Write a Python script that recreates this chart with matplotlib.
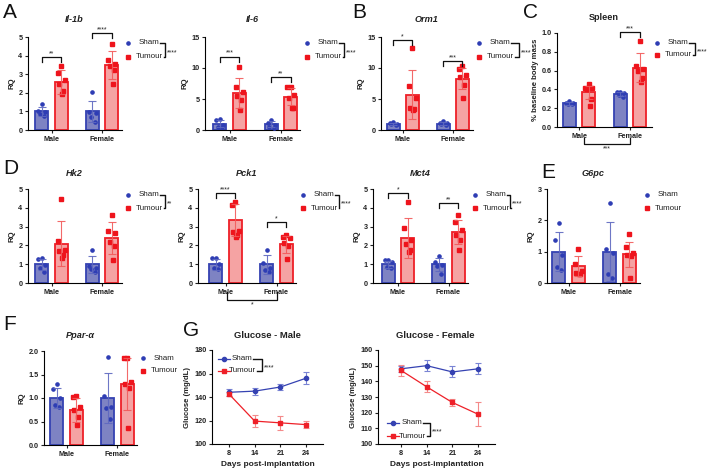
import numpy as np
import matplotlib
matplotlib.use('Agg')
import matplotlib.pyplot as plt
from matplotlib.lines import Line2D

plt.rcParams['font.family'] = ['Liberation Sans', 'DejaVu Sans']
plt.rcParams['axes.linewidth'] = 0.8

W, H = 709, 470
fig = plt.figure(figsize=(7.09, 4.70), dpi=100)

# ---------------- data ----------------
groups = ['Male', 'Female']

il1b_mean = [1.0, 2.58, 1.0, 3.5]
il1b_sd = [0.25, 0.64, 0.58, 0.75]
il1b_pts = [[1.42, 1.02, 0.95, 0.85, 0.76], [3.45, 3.05, 2.7, 2.45, 2.1, 1.95],
            [2.03, 0.95, 0.9, 0.7, 0.45], [4.65, 3.75, 3.55, 3.45, 3.25, 2.5]]

il6_mean = [1.0, 6.0, 1.0, 5.4]
il6_sd = [0.55, 2.4, 0.5, 1.35]
il6_pts = [[1.75, 1.65, 0.8, 0.55, 0.5], [10.1, 6.9, 6.2, 5.5, 4.8, 3.2],
           [1.6, 1.05, 0.8, 0.55, 0.3], [7.0, 6.95, 5.6, 5.1, 3.6, 3.5]]

orm1_mean = [1.0, 5.7, 1.0, 8.3]
orm1_sd = [0.15, 4.0, 0.22, 1.7]
orm1_pts = [[1.25, 1.15, 1.0, 0.9, 0.75], [13.3, 7.1, 5.2, 3.6, 3.4, 3.3],
            [1.4, 1.15, 1.05, 0.9, 0.75], [10.4, 9.9, 8.8, 8.5, 7.2, 5.1]]

spleen_mean = [0.25, 0.37, 0.35, 0.63]
spleen_sd = [0.02, 0.07, 0.02, 0.155]
spleen_pts = [[0.28, 0.26, 0.25, 0.245, 0.24], [0.46, 0.42, 0.41, 0.40, 0.30, 0.22],
              [0.37, 0.37, 0.36, 0.34, 0.32], [0.92, 0.65, 0.62, 0.60, 0.52, 0.48]]

hk2_mean = [1.0, 2.1, 1.0, 2.4]
hk2_sd = [0.3, 1.2, 0.45, 0.85]
hk2_pts = [[1.35, 1.3, 0.95, 0.8, 0.6], [4.45, 2.25, 1.75, 1.7, 1.5, 1.35],
           [1.75, 0.9, 0.8, 0.75, 0.6], [3.6, 2.75, 2.65, 2.2, 1.95, 1.2]]

pck1_mean = [1.0, 3.35, 1.0, 2.05]
pck1_sd = [0.3, 0.85, 0.5, 0.45]
pck1_pts = [[1.35, 1.35, 1.0, 0.8, 0.75], [4.3, 4.15, 2.75, 2.7, 2.55, 2.45],
            [1.75, 1.05, 0.8, 0.7, 0.6], [2.55, 2.45, 2.4, 2.15, 1.95, 1.3]]

mct4_mean = [1.0, 2.4, 1.0, 2.7]
mct4_sd = [0.18, 1.05, 0.35, 0.65]
mct4_pts = [[1.25, 1.2, 1.1, 0.85, 0.8], [4.3, 2.95, 2.3, 2.05, 1.75, 1.65],
            [1.45, 1.1, 0.95, 0.9, 0.5], [3.6, 3.25, 2.8, 2.55, 2.3, 1.75]]

g6pc_mean = [1.0, 0.55, 1.0, 0.92]
g6pc_sd = [0.63, 0.32, 0.95, 0.4]
g6pc_pts = [[1.9, 1.38, 0.88, 0.5, 0.42], [1.1, 0.6, 0.38, 0.32, 0.3, 0.3],
            [2.55, 1.1, 0.95, 0.3, 0.15], [1.55, 1.15, 0.95, 0.9, 0.85, 0.17]]

ppar_mean = [1.0, 0.75, 1.0, 1.3]
ppar_sd = [0.22, 0.25, 0.53, 0.55]
ppar_pts = [[1.3, 1.2, 1.0, 0.85, 0.8], [1.04, 1.03, 0.8, 0.75, 0.6, 0.42],
            [1.88, 1.05, 0.8, 0.78, 0.55], [1.85, 1.85, 1.35, 1.3, 1.22, 0.36]]

days = ['8', '14', '21', '24']
glu_m_sham = [144, 145, 148.5, 156]
glu_m_sham_err = [3, 3, 2.5, 5]
glu_m_tum = [142.5, 119.5, 118, 116.5]
glu_m_tum_err = [2, 5, 6, 3]
glu_f_sham = [148, 150, 146, 148]
glu_f_sham_err = [2, 3.5, 3.5, 3.5]
glu_f_tum = [147, 136.5, 126.5, 119]
glu_f_tum_err = [3.5, 3.5, 2.5, 7.5]

# ---------------- styles ----------------
BLUE_FILL = '#7E83C3'
BLUE_EDGE = '#3542B2'
BLUE_DOT = '#2E3DB4'
BLUE_ERR = '#5E68C0'
RED_FILL = '#F5A3A3'
RED_EDGE = '#EE2028'
RED_DOT = '#EE141C'
RED_ERR = '#F25A5A'
TXT = '#222222'

TICK_FS = 5.2
LAB_FS = 5.6


def fx(x):
    return x / W


def fy(y):
    return 1 - y / H


def px_axes(left, top, right, bottom):
    return fig.add_axes([left / W, 1 - bottom / H, (right - left) / W, (bottom - top) / H])


def style_axes(ax):
    for s in ['top', 'right']:
        ax.spines[s].set_visible(False)
    ax.tick_params(axis='both', labelsize=TICK_FS, length=2.5, width=0.8, pad=1.5, colors=TXT)
    for lab in ax.get_xticklabels() + ax.get_yticklabels():
        lab.set_fontweight('bold')


def offsets(n):
    if n == 5:
        return [0.0, -0.07, 0.07, -0.035, 0.05]
    return [0.0, -0.07, 0.07, -0.04, 0.04, 0.02]


def bar_panel(left, top, right, bottom, mc, fc, ylim, yticks, means, sds, pts,
              ylabel='RQ', yfmt=None):
    ax = px_axes(left, top, right, bottom)
    u = fc - mc
    ax.set_xlim((left - mc) / u, (right - mc) / u)
    ax.set_ylim(*ylim)
    xs = [-0.19, 0.19, 0.81, 1.19]
    for i, x in enumerate(xs):
        sham = i % 2 == 0
        fill = BLUE_FILL if sham else RED_FILL
        edge = BLUE_EDGE if sham else RED_EDGE
        dot = BLUE_DOT if sham else RED_DOT
        err = BLUE_ERR if sham else RED_ERR
        ax.bar(x, means[i], width=0.26, color=fill, edgecolor=edge, linewidth=1.3, zorder=2)
        p = pts[i]
        ox = offsets(len(p))
        ax.plot([x + o for o in ox], p, linestyle='none', marker='o' if sham else 's',
                ms=2.3, color=dot, zorder=3, clip_on=False)
        ax.errorbar(x, means[i], yerr=sds[i], color=err, capsize=3.2, elinewidth=0.8,
                    capthick=0.8, zorder=4, alpha=0.9)
    ax.set_xticks([0, 1])
    ax.set_xticklabels(groups)
    ax.set_yticks(yticks)
    if yfmt:
        ax.set_yticklabels([yfmt.format(v) for v in yticks])
    style_axes(ax)
    ax.set_ylabel(ylabel, fontsize=LAB_FS, fontweight='bold', labelpad=2, color=TXT)
    return ax


def sig_bracket(ax, x1, x2, y, drop, text, fs=5.0):
    ax.plot([x1, x1, x2, x2], [y - drop, y, y, y - drop], color='#111111', lw=0.9,
            clip_on=False, zorder=5)
    ax.text((x1 + x2) / 2, y, text, ha='center', va='bottom', fontsize=fs, color=TXT)


legend_items = []


def legend(mx, y1, y2, stars=None, bx=None, kind='bar', tx=None):
    if kind == 'bar':
        fig.add_artist(Line2D([fx(mx)], [fy(y1)], marker='o', ms=2.3, color=BLUE_DOT,
                              transform=fig.transFigure, linestyle='none'))
        fig.add_artist(Line2D([fx(mx)], [fy(y2)], marker='s', ms=2.3, color=RED_DOT,
                              transform=fig.transFigure, linestyle='none'))
        tcx = mx + 21 if tx is None else tx
    else:
        fig.add_artist(Line2D([fx(mx - 6), fx(mx + 6)], [fy(y1)] * 2, marker=None,
                              color=BLUE_EDGE, lw=0.9, transform=fig.transFigure))
        fig.add_artist(Line2D([fx(mx)], [fy(y1)], marker='o', ms=3, color=BLUE_EDGE,
                              transform=fig.transFigure, linestyle='none'))
        fig.add_artist(Line2D([fx(mx - 6), fx(mx + 6)], [fy(y2)] * 2, marker=None,
                              color=RED_EDGE, lw=0.9, transform=fig.transFigure))
        fig.add_artist(Line2D([fx(mx)], [fy(y2)], marker='s', ms=3, color=RED_EDGE,
                              transform=fig.transFigure, linestyle='none'))
        tcx = mx + 25 if tx is None else tx
    t1 = fig.text(fx(tcx), fy(y1), 'Sham', ha='center', va='center', fontsize=5.8, color=TXT)
    t2 = fig.text(fx(tcx), fy(y2), 'Tumour', ha='center', va='center', fontsize=5.8, color=TXT)
    if stars:
        legend_items.append((t1, t2, y1, y2, bx, stars))


def finish_legends():
    r = fig.canvas.get_renderer()
    for t1, t2, y1, y2, bx, stars in legend_items:
        e1 = t1.get_window_extent(r).x1 + 1
        e2 = t2.get_window_extent(r).x1 + 1
        fig.add_artist(Line2D([e1 / W, fx(bx), fx(bx), e2 / W], [fy(y1), fy(y1), fy(y2), fy(y2)],
                              color='#111111', lw=1.0, transform=fig.transFigure))
        fig.text(fx(bx + 2), fy((y1 + y2) / 2 + 2.5), stars, ha='left', va='center',
                 fontsize=5.0, color=TXT)


def title(x, y, s, italic=True, fs=6.6):
    fig.text(fx(x), fy(y), s, ha='center', va='center', fontsize=fs, fontweight='bold',
             fontstyle='italic' if italic else 'normal', color=TXT)


def letter(x, y, s):
    fig.text(fx(x), fy(y), s, ha='left', va='center', fontsize=15, color='#111111')


# ---------------- Row 1 ----------------
ax = bar_panel(28, 37, 122, 130, 51.5, 102, (0, 5), [0, 1, 2, 3, 4, 5], il1b_mean, il1b_sd, il1b_pts)
sig_bracket(ax, -0.19, 0.19, 3.92, 0.25, '**')
sig_bracket(ax, 0.81, 1.19, 5.2, 0.25, '****')
title(74.5, 20, 'Il-1b')
legend(128, 43, 57, '****', 165)

ax = bar_panel(205, 37, 300, 130, 229.5, 281, (0, 15), [0, 5, 10, 15], il6_mean, il6_sd, il6_pts)
sig_bracket(ax, -0.19, 0.19, 11.8, 0.8, '***')
sig_bracket(ax, 0.81, 1.19, 8.55, 0.8, '**')
title(252, 20, 'Il-6')
legend(307, 43, 57, '****', 344)

ax = bar_panel(381, 37, 473, 130, 402.5, 452.5, (0, 15), [0, 5, 10, 15], orm1_mean, orm1_sd, orm1_pts)
sig_bracket(ax, -0.19, 0.19, 14.5, 0.8, '*')
sig_bracket(ax, 0.81, 1.19, 11.1, 0.8, '***')
title(426, 20, 'Orm1')
legend(479, 43, 57, '****', 519)

ax = bar_panel(557, 33, 652, 127, 579, 630, (0, 1.0), [0, 0.2, 0.4, 0.6, 0.8, 1.0],
               spleen_mean, spleen_sd, spleen_pts, ylabel='% baseline body mass', yfmt='{:.1f}')
sig_bracket(ax, 0.81, 1.19, 1.01, 0.05, '***')
ax.plot([0.1, 0.1, 1.0, 1.0], [-0.12, -0.185, -0.185, -0.12], color='#111111', lw=0.9, clip_on=False)
ax.text(0.55, -0.2, '***', ha='center', va='top', fontsize=5.0, color=TXT)
title(604, 18, 'Spleen', italic=False)
legend(657, 43, 55, '****', 695)

letter(3, 13, 'A')
letter(352, 13, 'B')
letter(523, 13, 'C')

# ---------------- Row 2 ----------------
ax = bar_panel(28, 189, 122, 283, 51.5, 102, (0, 5), [0, 1, 2, 3, 4, 5], hk2_mean, hk2_sd, hk2_pts)
title(74.5, 174, 'Hk2')
legend(128, 195, 208, '**', 165)

ax = bar_panel(198, 189, 296, 283, 225.5, 276.5, (0, 5), [0, 1, 2, 3, 4, 5], pck1_mean, pck1_sd, pck1_pts)
sig_bracket(ax, -0.19, 0.19, 4.79, 0.25, '****')
sig_bracket(ax, 0.81, 1.19, 3.24, 0.25, '*')
ax.plot([0.03, 0.03, 1.0, 1.0], [-0.5, -0.9, -0.9, -0.5], color='#111111', lw=0.9, clip_on=False)
ax.text(0.515, -1.0, '*', ha='center', va='top', fontsize=5.0, color=TXT)
title(247, 174, 'Pck1')
legend(303, 195, 208, '****', 339)

ax = bar_panel(373, 189, 468, 283, 398, 448.5, (0, 5), [0, 1, 2, 3, 4, 5], mct4_mean, mct4_sd, mct4_pts)
sig_bracket(ax, -0.19, 0.19, 4.79, 0.25, '*')
sig_bracket(ax, 0.81, 1.19, 4.25, 0.25, '**')
title(420, 174, 'Mct4')
legend(475, 195, 208, '****', 510)

ax = bar_panel(547, 189, 640, 283, 568.5, 619.5, (0, 3), [0, 1, 2, 3], g6pc_mean, g6pc_sd, g6pc_pts)
title(593, 174, 'G6pc')
legend(647, 195, 208, tx=668)

letter(3, 168, 'D')
letter(541, 172, 'E')

# ---------------- Row 3 ----------------
ax = bar_panel(44, 351, 137, 445, 66.5, 117.5, (0, 2.0), [0, 0.5, 1.0, 1.5, 2.0],
               ppar_mean, ppar_sd, ppar_pts, yfmt='{:.1f}')
title(80, 336, 'Ppar-α')
legend(143, 358, 371, tx=164)
letter(3, 325, 'F')


def glucose_panel(left, right, x0px, ylim, yticks, sham, sham_e, tum, tum_e, ttl, tx):
    ax = px_axes(left, 350, right, 444)
    u = 25.7
    ax.set_xlim((left - x0px) / u, (right - x0px) / u)
    ax.set_ylim(*ylim)
    xs = np.arange(len(days))
    ax.errorbar(xs, sham, yerr=sham_e, color='#7A84D4', capsize=2.5, elinewidth=0.8,
                capthick=0.8, linestyle='none', zorder=2)
    ax.errorbar(xs, tum, yerr=tum_e, color='#F48A8A', capsize=2.5, elinewidth=0.8,
                capthick=0.8, linestyle='none', zorder=2)
    ax.plot(xs, sham, color=BLUE_EDGE, marker='o', ms=3, lw=0.9, zorder=3)
    ax.plot(xs, tum, color=RED_EDGE, marker='s', ms=3, lw=0.9, zorder=3)
    ax.set_xticks(xs)
    ax.set_xticklabels(days)
    ax.set_yticks(yticks)
    style_axes(ax)
    ax.set_ylabel('Glucose (mg/dL)', fontsize=LAB_FS, fontweight='bold', labelpad=2, color=TXT)
    ax.set_xlabel('Days post-implantation', fontsize=6.0, fontweight='bold', labelpad=3, color=TXT)
    title(tx, 335, ttl, italic=False, fs=6.8)
    return ax


glucose_panel(212, 323, 229, (100, 180), [100, 120, 140, 160, 180],
              glu_m_sham, glu_m_sham_err, glu_m_tum, glu_m_tum_err, 'Glucose - Male', 267)
legend(224, 359, 371, '****', 262, kind='line', tx=242)

glucose_panel(378, 495, 401, (100, 160), [100, 110, 120, 130, 140, 150, 160],
              glu_f_sham, glu_f_sham_err, glu_f_tum, glu_f_tum_err, 'Glucose - Female', 435)
legend(393, 423, 436, '****', 430, kind='line', tx=412)

letter(183, 330, 'G')

finish_legends()

fig.savefig('out.png', dpi=100)
